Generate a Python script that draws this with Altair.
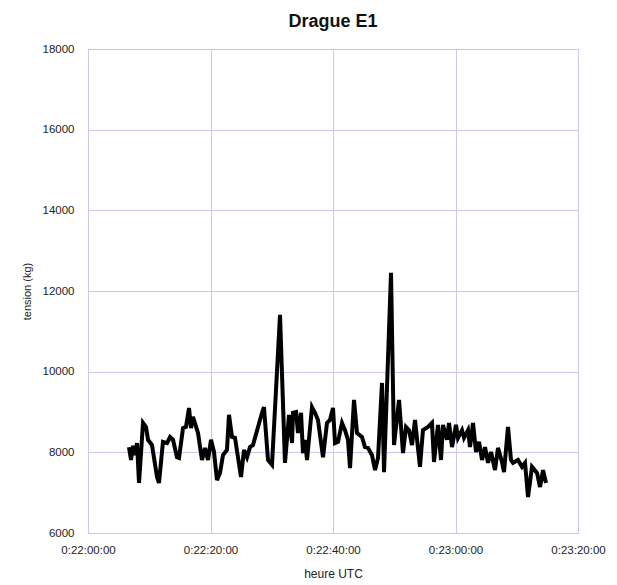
import altair as alt
import pandas as pd

# time in seconds after 0:22:00:00
seconds = [6.69, 7.02, 7.35, 7.67, 8.0, 8.33, 8.98, 9.47, 9.80, 10.45, 11.27, 11.59, 12.24, 12.90,
           13.39, 13.88, 14.53, 14.86, 15.51, 16.0, 16.49, 16.82, 17.14, 17.96, 18.61, 19.10, 19.59,
           20.08, 20.57, 21.06, 21.55, 22.04, 22.69, 23.02, 23.51, 24.0, 24.98, 25.47, 25.96, 26.45,
           26.94, 27.76, 28.41, 28.73, 29.39, 30.04, 31.35, 32.16, 32.82, 33.31, 33.47, 33.96, 34.29,
           34.78, 35.10, 35.43, 35.76, 36.57, 37.06, 37.55, 38.37, 39.02, 39.51, 40.0, 40.33, 40.82,
           41.47, 41.96, 42.45, 42.78, 43.43, 43.92, 44.73, 45.22, 45.71, 46.37, 46.86, 47.35, 48.0,
           48.33, 49.47, 49.96, 50.78, 51.43, 51.92, 52.41, 52.90, 53.39, 54.20, 54.69, 55.51, 56.16,
           56.49, 57.14, 57.63, 57.96, 58.61, 58.94, 59.43, 60.08, 60.41, 61.06, 61.39, 62.04, 62.37,
           62.86, 63.35, 63.84, 64.33, 64.82, 65.31, 65.80, 66.45, 66.94, 67.59, 67.92, 68.57, 69.06,
           69.39, 70.20, 70.86, 71.35, 71.84, 72.49, 73.31, 73.80, 74.29, 74.78]

tension_kg = [8130, 7810, 8160, 7930, 8230, 7240, 8730, 8630, 8310, 8180, 7390, 7240, 8260, 8230,
              8380, 8310, 7880, 7860, 8600, 8630, 9100, 8600, 8880, 8480, 7810, 8110, 7810,
              8310, 8010, 7310, 7490, 7930, 8060, 8930, 8380, 8360, 7390, 8060, 7880, 8130,
              8180, 8630, 8980, 9120, 7810, 7690, 11410, 7740, 8930, 8230, 8980, 9000, 8480,
              8980, 7980, 8310, 7810, 9120, 8980, 8800, 7880, 8730, 8800, 9100, 8230, 8260,
              8730, 8550, 8310, 7610, 9300, 8480, 8380, 8130, 8110, 7930, 7560, 7860, 9720,
              7510, 12450, 8180, 9300, 7980, 8630, 8550, 8180, 8800, 7640, 8550, 8630, 8730,
              7760, 8680, 7810, 8680, 8310, 8730, 8130, 8680, 8360, 8550, 8360, 8550, 8130,
              8730, 8010, 8260, 7810, 8130, 7740, 8010, 7560, 8110, 7760, 7510, 8630, 7810,
              7740, 7810, 7640, 7740, 6890, 7640, 7490, 7140, 7560, 7240]

x_ticks = [0, 20, 40, 60, 80]
x_tick_labels = ["0:22:00:00", "0:22:20:00", "0:22:40:00", "0:23:00:00", "0:23:20:00"]
y_ticks = [6000, 8000, 10000, 12000, 14000, 16000, 18000]

df = pd.DataFrame({"t": seconds, "tension": tension_kg})

label_expr = " : ".join(
    f"datum.value == {v} ? '{lab}'" for v, lab in zip(x_ticks, x_tick_labels)
) + " : ''"

grid_col = "#c8c8f0"
font = "Liberation Sans"

chart = alt.Chart(df).mark_line(color="black", strokeWidth=4).encode(
    x=alt.X("t:Q",
            scale=alt.Scale(domain=[0, 80], nice=False, zero=False),
            axis=alt.Axis(values=x_ticks, labelExpr=label_expr, title="heure UTC",
                          grid=True, gridColor=grid_col, domainColor=grid_col,
                          ticks=False, labelFlush=False, labelOverlap=False,
                          labelPadding=11, titlePadding=13,
                          labelFont=font, titleFont=font, labelFontSize=11.5,
                          titleFontSize=12, titleFontWeight="normal",
                          labelColor="#222222", titleColor="#222222")),
    y=alt.Y("tension:Q",
            scale=alt.Scale(domain=[6000, 18000], nice=False, zero=False),
            axis=alt.Axis(values=y_ticks, title="tension (kg)", format="d",
                          grid=True, gridColor=grid_col, domainColor=grid_col,
                          ticks=False, labelFlush=False, labelOverlap=False,
                          labelPadding=14, titlePadding=10,
                          labelFont=font, titleFont=font, labelFontSize=11.5,
                          titleFontSize=11, titleFontWeight="normal",
                          labelColor="#222222", titleColor="#222222")),
).properties(
    width=490, height=484,
    title=alt.TitleParams("Drague E1", fontSize=18, font=font, fontWeight="bold",
                          color="#111111", anchor="middle", offset=12),
    autosize=alt.AutoSizeParams(type="none"),
    padding={"left": 80, "top": 41, "right": 31, "bottom": 52},
).configure_view(stroke=grid_col, strokeWidth=1)

chart.save("out.html", embed_options={"renderer": "svg", "actions": False})
